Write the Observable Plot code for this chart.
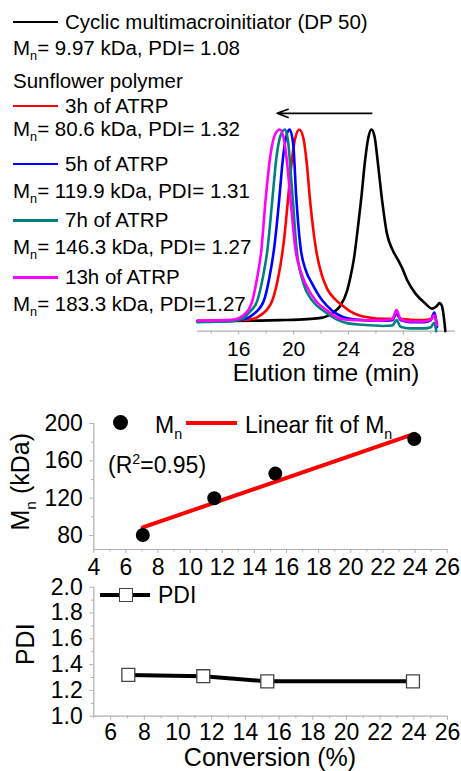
<!DOCTYPE html>
<html><head><meta charset="utf-8">
<script src="https://cdn.jsdelivr.net/npm/d3@7"></script>
<script src="https://cdn.jsdelivr.net/npm/@observablehq/plot@0.6"></script>
<style>
body{margin:0;background:#fff;font-family:"Liberation Sans",Arial,sans-serif;color:#000}
#root{position:relative;width:461px;height:771px;overflow:hidden;background:#fff}
.t{position:absolute;white-space:nowrap;line-height:1}
.sub{font-size:0.62em;vertical-align:-0.42em;line-height:1}
.sup{font-size:0.62em;vertical-align:0.62em;line-height:1}
.sw{position:absolute}
</style></head><body><div id="root"></div>
<script>
// ---------- GPC traces (elution time, normalised signal) ----------
const cyclicTrace = [[13.0,0.048],[15.0,0.05],[17.0,0.052],[19.0,0.055],[21.0,0.06],[22.0,0.066],[22.6,0.08],[23.0,0.098],[23.4,0.125],[23.9,0.2],[24.15,0.27],[24.4,0.36],[24.75,0.55],[24.95,0.67],[25.2,0.84],[25.45,0.96],[25.67,1.0],[25.9,0.965],[26.15,0.83],[26.45,0.65],[26.8,0.485],[27.2,0.405],[27.6,0.355],[27.9,0.315],[28.3,0.25],[28.9,0.185],[29.6,0.137],[30.1,0.112],[30.4,0.122],[30.64,0.139],[30.8,0.127],[30.92,0.085],[31.0,0.04],[31.06,0.0]];
const h3Trace = [[13.0,0.052],[15.0,0.054],[16.5,0.056],[17.0,0.06],[17.6,0.08],[18.1,0.11],[18.45,0.152],[18.8,0.24],[19.05,0.33],[19.3,0.45],[19.55,0.62],[19.8,0.8],[20.1,0.95],[20.42,1.0],[20.72,0.955],[20.95,0.84],[21.2,0.65],[21.65,0.40],[22.05,0.28],[22.45,0.21],[23.0,0.16],[23.6,0.125],[24.1,0.1],[24.8,0.078],[25.5,0.068],[26.5,0.062],[27.2,0.062],[27.5,0.088],[27.8,0.062],[28.5,0.057],[29.5,0.055],[30.0,0.06],[30.25,0.082],[30.45,0.03]];
const h5Trace = [[13.0,0.05],[15.5,0.054],[16.5,0.062],[17.1,0.085],[17.84,0.152],[18.25,0.27],[18.6,0.42],[18.95,0.65],[19.2,0.84],[19.45,0.96],[19.71,1.0],[19.97,0.93],[20.2,0.66],[20.5,0.42],[20.9,0.3],[21.36,0.235],[22.1,0.152],[22.8,0.103],[23.6,0.07],[24.5,0.058],[26.5,0.052],[27.2,0.055],[27.5,0.088],[27.8,0.055],[28.5,0.045],[29.5,0.045],[30.0,0.055],[30.25,0.092],[30.45,0.02]];
const h7Trace = [[13.0,0.045],[15.5,0.05],[16.3,0.063],[16.8,0.095],[17.36,0.152],[17.8,0.28],[18.09,0.40],[18.45,0.65],[18.75,0.86],[19.05,0.97],[19.37,1.0],[19.62,0.93],[19.8,0.78],[19.95,0.65],[20.2,0.42],[20.73,0.235],[21.36,0.152],[22.2,0.1],[23.1,0.06],[23.9,0.04],[25.0,0.032],[26.5,0.026],[27.2,0.028],[27.5,0.055],[27.8,0.022],[28.5,0.014],[29.5,0.014],[30.0,0.02],[30.25,0.042],[30.4,0.0]];
const h13Trace = [[13.0,0.052],[15.5,0.056],[16.5,0.088],[17.0,0.152],[17.36,0.27],[17.65,0.40],[17.96,0.65],[18.33,0.88],[18.65,0.975],[19.0,1.0],[19.3,0.95],[19.55,0.82],[19.78,0.65],[20.15,0.40],[20.5,0.3],[20.87,0.235],[21.6,0.152],[22.45,0.103],[23.4,0.062],[24.5,0.055],[26.5,0.053],[27.2,0.06],[27.5,0.105],[27.8,0.06],[28.5,0.048],[29.5,0.048],[30.0,0.058],[30.25,0.08],[30.45,0.03]];

const seriesNames = ["Cyclic multimacroinitiator (DP 50)","3h of ATRP","5h of ATRP","7h of ATRP","13h of ATRP"];
const seriesColors = ["#000000","#ff0000","#0000ff","#008080","#ff00ff"];
const seriesMn = ["9.97","80.6","119.9","146.3","183.3"];
const seriesPdiText = ["PDI= 1.08","PDI= 1.32","PDI= 1.31","PDI= 1.27","PDI=1.27"];
const gpcTicks = [16,20,24,28];
const gpcMinorTicks = [14,18,22,26,30];
const shiftArrow = [{from:25.7, to:18.8, y:1.08}];

// ---------- Mn / PDI vs conversion ----------
const conversion = [7.05, 11.5, 15.3, 23.95];
const mnValues = [80.6, 119.9, 146.3, 183.3];
const pdiValues = [1.32, 1.31, 1.27, 1.27];
const convTicksMid = [4,6,8,10,12,14,16,18,20,22,24,26];
const convMinorMid = [5,7,9,11,13,15,17,19,21,23,25];
const convTicksBot = [6,8,10,12,14,16,18,20,22,24,26];
const convMinorBot = [5,7,9,11,13,15,17,19,21,23,25];
const mnTicks = [80,120,160,200];
const mnMinor = [100,140,180];
const pdiTicks = [1.0,1.2,1.4,1.6,1.8,2.0];
const pdiMinor = [1.1,1.3,1.5,1.7,1.9];

(function(){
const root = document.getElementById("root");
const GRAY = "#b0b0b0";
const FONT = "Liberation Sans, Arial, sans-serif";

function place(el, y){ el.style.position="absolute"; el.style.left="0px"; el.style.top=y+"px"; root.appendChild(el); }
function txt(html, x, yc, size, extra){
  const d = document.createElement("div"); d.className="t";
  d.style.left = x+"px"; d.style.top = (yc - 0.49*size)+"px"; d.style.fontSize = size+"px";
  d.innerHTML = html; if (extra) Object.assign(d.style, extra); root.appendChild(d); return d;
}
function swLine(x1, x2, y, color, w){
  const d = document.createElement("div"); d.className="sw";
  Object.assign(d.style,{left:x1+"px",top:(y-w/2)+"px",width:(x2-x1)+"px",height:w+"px",background:color});
  root.appendChild(d);
}

// ---------- top: GPC ----------
const traces = [cyclicTrace,h3Trace,h5Trace,h7Trace,h13Trace];
const gpcRows = traces.flatMap((tr,i)=>tr.map(([t,v])=>({t, v, s: seriesNames[i]})));
const gpcPlot = Plot.plot({
  width:461, height:390, marginLeft:197, marginRight:6, marginTop:88.66, marginBottom:59.3,
  style:{fontFamily:FONT, background:"transparent", overflow:"visible"},
  x:{domain:[13,31.8]}, y:{domain:[0,1.2], axis:null},
  color:{domain:seriesNames, range:seriesColors},
  marks:[
    Plot.ruleY([0],{stroke:GRAY, strokeWidth:1.2}),
    Plot.axisX({ticks:gpcTicks, tickSize:4, tickPadding:6, fontSize:21, stroke:GRAY, fill:"#000", label:null}),
    Plot.axisX({ticks:gpcMinorTicks, tickSize:3, tickFormat:()=>"", stroke:GRAY, label:null}),
    Plot.line(gpcRows,{x:"t", y:"v", z:"s", stroke:"s", strokeWidth:2.6, curve:"monotone-x"}),
    Plot.arrow(shiftArrow,{x1:"from", x2:"to", y1:"y", y2:"y", stroke:"#000", strokeWidth:1.6, headLength:11, headAngle:40})
  ]
});
place(gpcPlot, 0);
txt("Elution time (min)", 326, 373, 24, {transform:"translateX(-50%)"});

// legend for GPC
const legendY = [[22,48],[106,129],[164,191],[220.5,247],[277.5,304]];
seriesNames.forEach((n,i)=>{
  const [ya, yb] = legendY[i];
  swLine(13, 58, ya, seriesColors[i], 2.6);
  txt(n, 65, ya, 20.5);
  txt(`M<span class="sub">n</span>= ${seriesMn[i]} kDa, ${seriesPdiText[i]}`, 13, yb, 20.5);
});
txt("Sunflower polymer", 13, 81.5, 20.5);

// ---------- middle: Mn vs conversion ----------
const mnData = conversion.map((c,i)=>({conv:c, mn:mnValues[i]}));
const midPlot = Plot.plot({
  width:461, height:185, marginLeft:93.3, marginRight:14.3, marginTop:23, marginBottom:36,
  style:{fontFamily:FONT, background:"transparent", overflow:"visible"},
  x:{domain:[4,26]}, y:{domain:[65,200]},
  marks:[
    Plot.ruleY([65],{stroke:GRAY, strokeWidth:1.2}),
    Plot.ruleX([4],{stroke:GRAY, strokeWidth:1.2}),
    Plot.axisX({ticks:convTicksMid, tickSize:4, tickPadding:5, fontSize:23, stroke:GRAY, fill:"#000", label:null}),
    Plot.axisX({ticks:convMinorMid, tickSize:2.5, tickFormat:()=>"", stroke:GRAY, label:null}),
    Plot.axisY({ticks:mnTicks, tickSize:4, tickPadding:7, fontSize:23, stroke:GRAY, fill:"#000", label:null}),
    Plot.axisY({ticks:mnMinor, tickSize:2.5, tickFormat:()=>"", stroke:GRAY, label:null}),
    Plot.linearRegressionY(mnData,{x:"conv", y:"mn", stroke:"#ff0000", strokeWidth:4, ci:0}),
    Plot.dot(mnData,{x:"conv", y:"mn", r:7, fill:"#000"})
  ]
});
place(midPlot, 400);
(function(){
  const d = document.createElement("div"); d.className="sw";
  Object.assign(d.style,{left:"113px",top:"415px",width:"15px",height:"15px",borderRadius:"50%",background:"#000"});
  root.appendChild(d);
})();
txt(`M<span class="sub">n</span>`, 155, 425, 23);
swLine(186, 237, 423, "#ff0000", 4);
txt(`Linear fit of M<span class="sub">n</span>`, 245, 425, 23);
txt(`(R<span class="sup">2</span>=0.95)`, 108, 463, 23);
txt(`M<span class="sub">n</span> (kDa)`, 23, 479, 25, {transform:"translate(-50%,0) rotate(-90deg)", transformOrigin:"50% 49%"});

// ---------- bottom: PDI vs conversion ----------
const pdiData = conversion.map((c,i)=>({conv:c, pdi:pdiValues[i]}));
const botPlot = Plot.plot({
  width:461, height:201, marginLeft:93.3, marginRight:14, marginTop:16.7, marginBottom:55.3,
  style:{fontFamily:FONT, background:"transparent", overflow:"visible"},
  x:{domain:[5,26]}, y:{domain:[1,2]},
  marks:[
    Plot.ruleY([1],{stroke:GRAY, strokeWidth:1.2}),
    Plot.ruleX([5],{stroke:GRAY, strokeWidth:1.2}),
    Plot.axisX({ticks:convTicksBot, tickSize:4, tickPadding:3, fontSize:23, stroke:GRAY, fill:"#000", label:null}),
    Plot.axisX({ticks:convMinorBot, tickSize:2.5, tickFormat:()=>"", stroke:GRAY, label:null}),
    Plot.axisY({ticks:pdiTicks, tickFormat:d3.format(".1f"), tickSize:4, tickPadding:7, fontSize:23, stroke:GRAY, fill:"#000", label:null}),
    Plot.axisY({ticks:pdiMinor, tickSize:2.5, tickFormat:()=>"", stroke:GRAY, label:null}),
    Plot.line(pdiData,{x:"conv", y:"pdi", stroke:"#000", strokeWidth:4}),
    Plot.dot(pdiData,{x:"conv", y:"pdi", symbol:"square", r:7.3, fill:"#fff", stroke:"#444", strokeWidth:1.3})
  ]
});
place(botPlot, 570);
swLine(100, 150, 595, "#000", 4);
(function(){
  const d = document.createElement("div"); d.className="sw";
  Object.assign(d.style,{left:"119px",top:"588px",width:"12px",height:"12px",background:"#fff",border:"1.3px solid #444"});
  root.appendChild(d);
})();
txt("PDI", 158, 595, 23);
txt("PDI", 25, 644, 25, {transform:"translate(-50%,0) rotate(-90deg)", transformOrigin:"50% 49%"});
txt("Conversion (%)", 270, 757, 25, {transform:"translateX(-50%)"});
})();
</script></body></html>
